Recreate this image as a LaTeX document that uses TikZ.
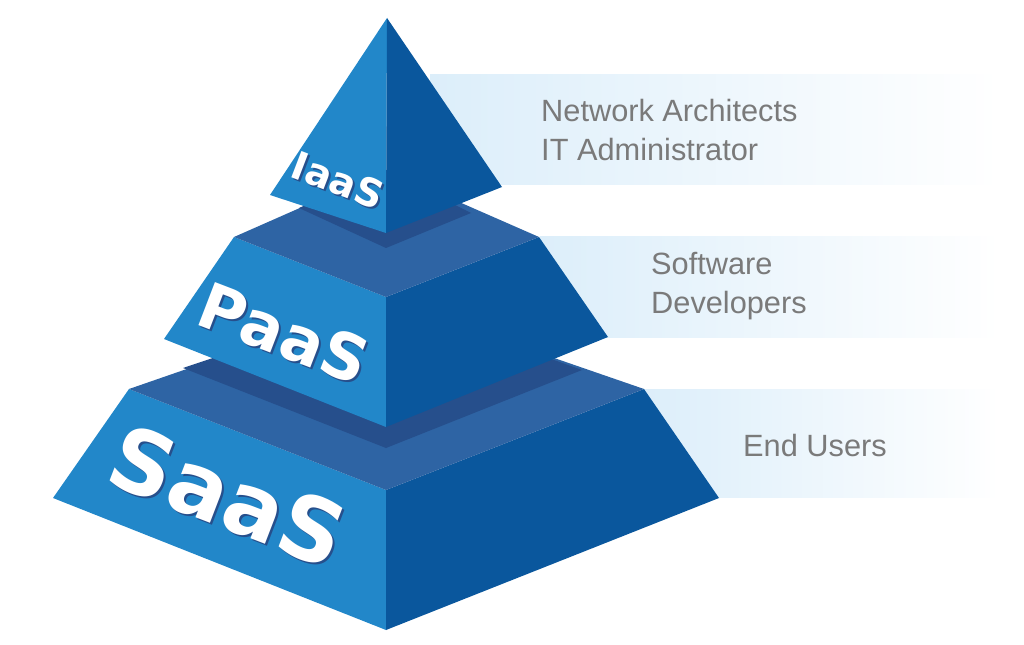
\documentclass[tikz,border=0pt]{standalone}
\usepackage{fontspec}
\setmainfont{Liberation Sans}
\newfontfamily\tierfont{DejaVu Sans}
\definecolor{lightface}{HTML}{2287C9}
\definecolor{darkface}{HTML}{0A579D}
\definecolor{topface}{HTML}{2E64A4}
\definecolor{innerface}{HTML}{264F8C}
\definecolor{bandblue}{HTML}{DCEEFA}
\definecolor{labelgray}{HTML}{7A7A7A}
\begin{document}
\begin{tikzpicture}[
  x=0.02cm, y=-0.02cm,
  band/.style={left color=bandblue, right color=white, draw=none},
  role/.style={text=labelgray, anchor=west, font=\fontsize{17.5}{22}\selectfont, align=left},
  tier/.style={text=white, font=\tierfont\bfseries, inner sep=0pt}
]
  \useasboundingbox (0,0) rectangle (1024,645);

  % bands behind the roles
  \fill[band] (430,75) rectangle (1000,185);
  \fill[band] (540,237) rectangle (1000,337);
  \fill[band] (644,389) rectangle (1000,497);

  % SaaS tier
  \coordinate (sl) at (53,498);
  \coordinate (sf) at (386,630);
  \coordinate (sr) at (719,498);
  \coordinate (stl) at (129,389);
  \coordinate (stf) at (386,490);
  \coordinate (str) at (644,389);
  \fill[lightface] (sl) -- (sf) -- (stf) -- (stl) -- cycle;
  \fill[darkface] (sf) -- (sr) -- (str) -- (stf) -- cycle;
  \fill[topface] (stl) -- (stf) -- (str) -- (386,300) -- cycle;
  \fill[innerface] (183,368) -- (386,448) -- (582,370) -- (386,300) -- cycle;

  % PaaS tier
  \coordinate (pl) at (164,339);
  \coordinate (pf) at (386,427);
  \coordinate (pr) at (608,337);
  \coordinate (ptl) at (234,237);
  \coordinate (ptf) at (386,297);
  \coordinate (ptr) at (539,237);
  \fill[lightface] (pl) -- (pf) -- (ptf) -- (ptl) -- cycle;
  \fill[darkface] (pf) -- (pr) -- (ptr) -- (ptf) -- cycle;
  \fill[topface] (ptl) -- (ptf) -- (ptr) -- (386,170) -- cycle;
  \fill[innerface] (299,208) -- (386,248) -- (471,213) -- (386,170) -- cycle;

  % IaaS tier
  \coordinate (apex) at (387,18);
  \coordinate (il) at (270,195);
  \coordinate (if) at (386,233);
  \coordinate (ir) at (502,187);
  \fill[lightface] (apex) -- (il) -- (if) -- cycle;
  \fill[darkface] (apex) -- (if) -- (ir) -- cycle;

  % tier names
  \foreach \name/\px/\py/\size in {IaaS/338/180/22, PaaS/284/333/36, SaaS/228/496/50} {
    \node[tier, text=innerface, rotate=-21] at (\px+2,\py+2) {\fontsize{\size}{\size}\selectfont \name};
    \node[tier, rotate=-21] (t\name) at (\px,\py) {\fontsize{\size}{\size}\selectfont \name};
  }

  % roles
  \node[role] (r1) at (535,130) {Network Architects\\IT Administrator};
  \node[role] (r2) at (645,286) {Software\\Developers};
  \node[role] (r3) at (737,446) {End Users};
\end{tikzpicture}
\end{document}
